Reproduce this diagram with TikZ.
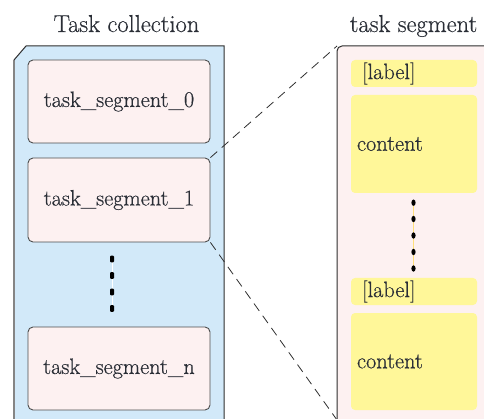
\documentclass[tikz,border=0pt]{standalone}
\usepackage{fontspec}
\setmainfont{Latin Modern Roman}[FakeBold=0.5]
\definecolor{collblue}{HTML}{D2E9F9}
\definecolor{segpink}{HTML}{FDF1F1}
\definecolor{hiyellow}{HTML}{FFF799}
\definecolor{txtdark}{HTML}{2A2E36}
\definecolor{edgedark}{HTML}{2E2E2E}
\definecolor{edgegray}{HTML}{858585}
\begin{document}
\begin{tikzpicture}[x=1pt,y=-1pt,
  every node/.style={font=\rmfamily\fontsize{22.3}{26}\selectfont, text=txtdark},
  segbox/.style={draw=edgedark!85, line width=0.9pt, fill=segpink, rounded corners=5pt,
    minimum width=182pt, inner sep=0pt},
  ylw/.style={fill=hiyellow, rounded corners=4pt, minimum width=126pt, text width=115pt,
    align=left, inner ysep=0pt},
  lblbox/.style={ylw, minimum height=27pt, inner xsep=11pt, text width=104pt},
  cntbox/.style={ylw, inner xsep=6pt, text width=114pt},
  link/.style={draw=edgedark, line width=0.8pt, dash pattern=on 9pt off 6pt},
  title/.style={anchor=base, inner sep=0pt, font=\rmfamily\fontsize{24.5}{28}\selectfont}
]
\useasboundingbox (0,0) rectangle (484,419);
\clip (0,0) rectangle (484,419);

% titles
\node[title] (tcoll) at (126.5,32) {Task collection};
\node[title] (tseg) at (413.5,32) {task segment};

% collection container
\fill[collblue] (14,60) -- (26,46) -- (224,46) -- (224,430) -- (14,430) -- cycle;
\draw[edgegray, line width=1.2pt] (14,430) -- (14,60);
\draw[edgedark, line width=1pt] (14,60) -- (26,46) -- (224,46) -- (224,430);

% segment container
\fill[segpink] (337,430) [rounded corners=5pt] -- (337,46) -- (495,46) [sharp corners] -- (495,430) -- cycle;
\draw[edgedark, line width=1pt] (337,430) [rounded corners=5pt] -- (337,46) -- (495,46);
\coordinate (segtl) at (337,46);
\coordinate (segbl) at (337,420);

% task segments
\node[segbox, minimum height=83pt] (s0) at (119,101.5) {task\_segment\_0};
\node[segbox, minimum height=84pt] (s1) at (119,200) {task\_segment\_1};
\node[segbox, minimum height=83pt] (sn) at (119,368.5) {task\_segment\_n};

% dots left
\draw[white, line width=0.6pt] (112,259) -- (112,309);
\foreach \y in {259,275.5,292,308.5}
  \fill[black, rounded corners=1pt] (110,\y-3.3) rectangle (114,\y+3.3);

% yellow items
\node[lblbox] (l1) at (414,73.5) {[label]};
\node[cntbox, minimum height=98pt] (c1) at (414,144) {content};
\node[lblbox] (l2) at (414,291.5) {[label]};
\node[cntbox, minimum height=97pt] (c2) at (414,361.5) {content};

% dots right
\draw[hiyellow!80!orange, line width=0.6pt] (413.5,200) -- (413.5,270);
\foreach \y in {202.7,219,235.5,252,268.5}
  \fill[black] (413.5,\y) ellipse (2.1pt and 3.2pt);

% dashed connectors
\draw[link] (s1.north east) -- (segtl);
\draw[link] (s1.south east) -- (segbl);
\end{tikzpicture}
\end{document}
